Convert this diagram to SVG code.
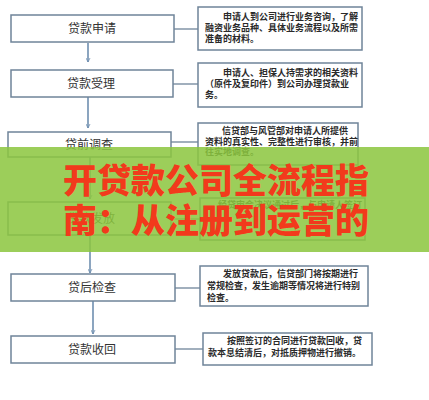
<svg xmlns="http://www.w3.org/2000/svg" width="429" height="400" viewBox="0 0 429 400">
<style>
.lb{fill:#fff;stroke:#6f8499;stroke-width:1.5}
.rb{fill:#fff;stroke:#6f8499;stroke-width:1.5}
.lt{font-family:"Noto Sans CJK SC","Liberation Sans",sans-serif;font-size:12px;fill:#333;text-anchor:middle}
.rt{font-family:"Noto Sans CJK SC","Liberation Sans",sans-serif;font-size:9px;font-weight:bold;fill:#2a2a2a}
.cn{stroke:#6f8499;stroke-width:1.3;fill:none}
.ar{stroke:#6f8fb0;stroke-width:1.6;fill:none}
.big{font-family:"Noto Sans CJK SC","Liberation Sans",sans-serif;font-size:34px;font-weight:900;fill:#f23a1c}
</style>
<defs>
<marker id="ah" viewBox="0 0 10 10" refX="9" refY="5" markerWidth="5" markerHeight="5" orient="auto" markerUnits="userSpaceOnUse">
<path d="M1,1 L9,5 L1,9" fill="none" stroke="#6f8fb0" stroke-width="1.6"/>
</marker>
</defs>
<rect width="429" height="400" fill="#fff"/>
<g id="connectors">
<line class="ar" x1="88" y1="43" x2="88" y2="62" marker-end="url(#ah)"/>
<line class="ar" x1="88" y1="97" x2="88" y2="128" marker-end="url(#ah)"/>
<line class="ar" x1="90" y1="157" x2="90" y2="199" marker-end="url(#ah)"/>
<line class="ar" x1="90" y1="235" x2="90" y2="273" marker-end="url(#ah)"/>
<line class="ar" x1="93" y1="301" x2="93" y2="334" marker-end="url(#ah)"/>
<line class="cn" x1="174" y1="29" x2="198" y2="29"/>
<line class="cn" x1="173" y1="84" x2="198" y2="84"/>
<line class="cn" x1="171" y1="142" x2="198" y2="142"/>
<line class="cn" x1="171" y1="219" x2="200" y2="219"/>
<line class="cn" x1="175" y1="288" x2="200" y2="288"/>
<line class="cn" x1="175" y1="349" x2="203" y2="349"/>
</g>
<g id="n1"><rect class="lb" x="11" y="15" width="163" height="27"/><text class="lt" x="92" y="33">贷款申请</text></g>
<g id="n2"><rect class="lb" x="11" y="70" width="162" height="27"/><text class="lt" x="91" y="88">贷款受理</text></g>
<g id="n3"><rect class="lb" x="8" y="132" width="163" height="25"/><text class="lt" x="89" y="149">贷前调查</text></g>
<g id="n4"><rect class="lb" x="8" y="202" width="163" height="33"/><text class="lt" x="91" y="223">贷款发放</text></g>
<g id="n5"><rect class="lb" x="11" y="274" width="164" height="27"/><text class="lt" x="92" y="292">贷后检查</text></g>
<g id="n6"><rect class="lb" x="11" y="336" width="164" height="27"/><text class="lt" x="92" y="354">贷款收回</text></g>
<g id="r1"><rect class="rb" x="198" y="7" width="164" height="43"/>
<text class="rt" x="223" y="19.5">申请人到公司进行业务咨询，了解</text>
<text class="rt" x="205" y="30.5">融资业务品种、具体业务流程以及所需</text>
<text class="rt" x="205" y="42">准备的材料。</text></g>
<g id="r2"><rect class="rb" x="198" y="63" width="164" height="44"/>
<text class="rt" x="223" y="75.5">申请人、担保人持需求的相关资料</text>
<text class="rt" x="205" y="86.5">（原件及复印件）到公司办理贷款业</text>
<text class="rt" x="205" y="97.5">务。</text></g>
<g id="r3"><rect class="rb" x="198" y="123" width="160" height="42"/>
<text class="rt" x="222" y="133.5">信贷部与风管部对申请人所提供</text>
<text class="rt" x="205" y="144.5">资料的真实性、完整性进行审核，并前</text>
<text class="rt" x="205" y="155">往实地调查。</text></g>
<g id="r4"><rect class="rb" x="200" y="198" width="165" height="42"/>
<text class="rt" x="218" y="207.5">经贷审会决议通过后，与申请人签订</text></g>
<g id="r5"><rect class="rb" x="200" y="266" width="168" height="40"/>
<text class="rt" x="223" y="276.5">发放贷款后，信贷部门将按期进行</text>
<text class="rt" x="207" y="288.5">常规检查，发生逾期等情况将进行特别</text>
<text class="rt" x="207" y="301">检查。</text></g>
<g id="r6"><rect class="rb" x="203" y="333" width="169" height="32"/>
<text class="rt" x="227" y="343.5">按照签订的合同进行贷款回收，贷</text>
<text class="rt" x="208" y="356">款本息结清后，对抵质押物进行撤销。</text></g>
<g id="banner">
<rect x="0" y="147" width="429" height="105" fill="#8cc63f" fill-opacity="0.86"/>
<text class="big" x="63" y="193">开贷款公司全流程指</text>
<text class="big" x="63" y="233">南：从注册到运营的</text>
</g>
</svg>
